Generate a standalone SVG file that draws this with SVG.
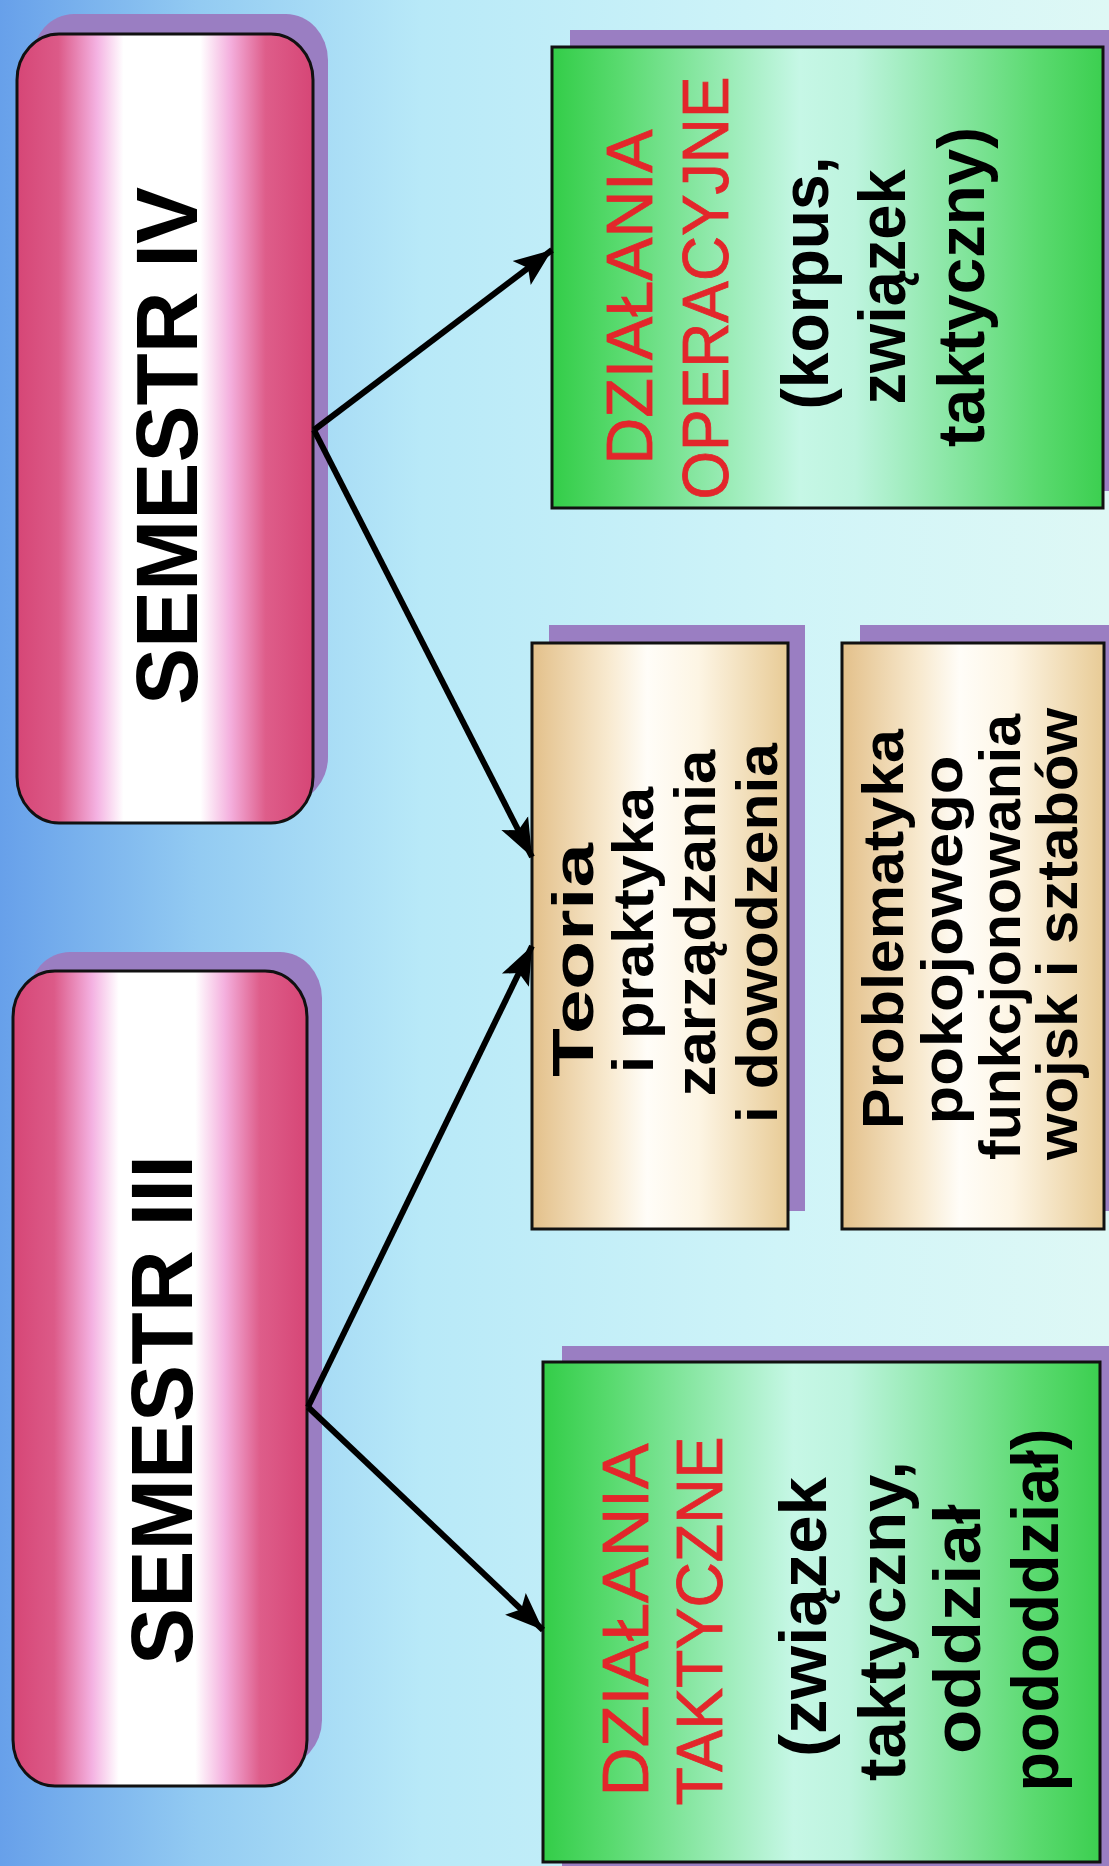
<svg xmlns="http://www.w3.org/2000/svg" width="1109" height="1866" viewBox="0 0 1109 1866">
  <defs>
    <linearGradient id="bg" x1="0" y1="0" x2="1" y2="0">
      <stop offset="0" stop-color="#67a0ea"/>
      <stop offset="0.18" stop-color="#93cbf2"/>
      <stop offset="0.38" stop-color="#b8e9f8"/>
      <stop offset="0.7" stop-color="#cff4f8"/>
      <stop offset="1" stop-color="#def8f5"/>
    </linearGradient>
    <linearGradient id="pink" x1="0" y1="0" x2="1" y2="0">
      <stop offset="0" stop-color="#d64676"/>
      <stop offset="0.14" stop-color="#dc5a88"/>
      <stop offset="0.27" stop-color="#f4b2e2"/>
      <stop offset="0.36" stop-color="#ffffff"/>
      <stop offset="0.62" stop-color="#ffffff"/>
      <stop offset="0.72" stop-color="#f4b0de"/>
      <stop offset="0.84" stop-color="#de5d8a"/>
      <stop offset="1" stop-color="#d64676"/>
    </linearGradient>
    <linearGradient id="green" x1="0" y1="0" x2="1" y2="0">
      <stop offset="0" stop-color="#33cd48"/>
      <stop offset="0.12" stop-color="#58da6e"/>
      <stop offset="0.45" stop-color="#c6f7e6"/>
      <stop offset="0.55" stop-color="#bdf4de"/>
      <stop offset="0.88" stop-color="#5bda70"/>
      <stop offset="1" stop-color="#3ccf50"/>
    </linearGradient>
    <linearGradient id="tan" x1="0" y1="0" x2="1" y2="0">
      <stop offset="0" stop-color="#e3c08a"/>
      <stop offset="0.3" stop-color="#f8ead0"/>
      <stop offset="0.45" stop-color="#fffdf8"/>
      <stop offset="0.65" stop-color="#fdf5e4"/>
      <stop offset="1" stop-color="#e8cb96"/>
    </linearGradient>
    <marker id="head" viewBox="0 0 38 32" refX="38" refY="16" markerWidth="38" markerHeight="32" markerUnits="userSpaceOnUse" orient="auto">
      <path d="M0,1 L38,16 L0,31 L8,16 Z" fill="#000"/>
    </marker>
  </defs>
  <style>
    .shadow { fill: #9a7ec2; }
    .sem { fill: url(#pink); stroke: #111; stroke-width: 3; }
    .grn { fill: url(#green); stroke: #111; stroke-width: 3; }
    .tan { fill: url(#tan); stroke: #111; stroke-width: 3; }
    .title { font-family: "Liberation Sans", Arial, sans-serif; font-weight: bold; font-size: 88px; fill: #000; }
    .red { font-family: "Liberation Sans", Arial, sans-serif; font-size: 64px; fill: #e3262b; stroke: #e3262b; stroke-width: 0.8; }
    .blk { font-family: "Liberation Sans", Arial, sans-serif; font-weight: bold; font-size: 66px; fill: #000; }
    .sub { font-family: "Liberation Sans", Arial, sans-serif; font-weight: bold; font-size: 58px; fill: #000; }
    .link { stroke: #000; stroke-width: 6; fill: none; marker-end: url(#head); }
  </style>

  <!-- page background -->
  <rect x="0" y="0" width="1109" height="1866" fill="url(#bg)"/>

  <!-- SEMESTR IV -->
  <g id="semestr-iv">
    <rect class="shadow" x="32" y="14" width="296" height="789" rx="42" ry="46"/>
    <rect class="sem" x="17" y="34" width="296" height="789" rx="42" ry="46"/>
    <text class="title" transform="translate(197,446) rotate(-90)" text-anchor="middle" textLength="518" lengthAdjust="spacingAndGlyphs">SEMESTR IV</text>
  </g>

  <!-- SEMESTR III -->
  <g id="semestr-iii">
    <rect class="shadow" x="28" y="952" width="294" height="814" rx="42" ry="46"/>
    <rect class="sem" x="13" y="971" width="294" height="815" rx="42" ry="46"/>
    <text class="title" transform="translate(192,1410) rotate(-90)" text-anchor="middle" textLength="510" lengthAdjust="spacingAndGlyphs">SEMESTR III</text>
  </g>

  <!-- Działania operacyjne -->
  <g id="dzialania-operacyjne">
    <rect class="shadow" x="570" y="30" width="545" height="461"/>
    <rect class="grn" x="552" y="47" width="551" height="461"/>
    <text class="red" transform="translate(652,297) rotate(-90)" text-anchor="middle" textLength="335" lengthAdjust="spacingAndGlyphs">DZIAŁANIA</text>
    <text class="red" transform="translate(728,288) rotate(-90)" text-anchor="middle" textLength="423" lengthAdjust="spacingAndGlyphs">OPERACYJNE</text>
    <text class="blk" transform="translate(828,283) rotate(-90)" text-anchor="middle" textLength="253" lengthAdjust="spacingAndGlyphs">(korpus,</text>
    <text class="blk" transform="translate(905,287) rotate(-90)" text-anchor="middle" textLength="235" lengthAdjust="spacingAndGlyphs">związek</text>
    <text class="blk" transform="translate(984,287) rotate(-90)" text-anchor="middle" textLength="320" lengthAdjust="spacingAndGlyphs">taktyczny)</text>
  </g>

  <!-- Teoria i praktyka zarządzania i dowodzenia -->
  <g id="teoria">
    <rect class="shadow" x="549" y="625" width="256" height="586"/>
    <rect class="tan" x="532" y="643" width="256" height="586"/>
    <text class="sub" transform="translate(593,960) rotate(-90)" text-anchor="middle" textLength="234" lengthAdjust="spacingAndGlyphs">Teoria</text>
    <text class="sub" transform="translate(653,930) rotate(-90)" text-anchor="middle" textLength="286" lengthAdjust="spacingAndGlyphs">i praktyka</text>
    <text class="sub" transform="translate(715,923) rotate(-90)" text-anchor="middle" textLength="347" lengthAdjust="spacingAndGlyphs">zarządzania</text>
    <text class="sub" transform="translate(777,933) rotate(-90)" text-anchor="middle" textLength="380" lengthAdjust="spacingAndGlyphs">i dowodzenia</text>
  </g>

  <!-- Problematyka pokojowego funkcjonowania wojsk i sztabów -->
  <g id="problematyka">
    <rect class="shadow" x="860" y="625" width="262" height="586"/>
    <rect class="tan" x="842" y="643" width="262" height="586"/>
    <text class="sub" transform="translate(903,929) rotate(-90)" text-anchor="middle" textLength="400" lengthAdjust="spacingAndGlyphs">Problematyka</text>
    <text class="sub" transform="translate(962,940) rotate(-90)" text-anchor="middle" textLength="369" lengthAdjust="spacingAndGlyphs">pokojowego</text>
    <text class="sub" transform="translate(1020,937) rotate(-90)" text-anchor="middle" textLength="446" lengthAdjust="spacingAndGlyphs">funkcjonowania</text>
    <text class="sub" transform="translate(1077,934) rotate(-90)" text-anchor="middle" textLength="452" lengthAdjust="spacingAndGlyphs">wojsk i sztabów</text>
  </g>

  <!-- Działania taktyczne -->
  <g id="dzialania-taktyczne">
    <rect class="shadow" x="562" y="1346" width="560" height="540"/>
    <rect class="grn" x="543" y="1362" width="557" height="500"/>
    <text class="red" transform="translate(648,1620) rotate(-90)" text-anchor="middle" textLength="353" lengthAdjust="spacingAndGlyphs">DZIAŁANIA</text>
    <text class="red" transform="translate(722,1621) rotate(-90)" text-anchor="middle" textLength="369" lengthAdjust="spacingAndGlyphs">TAKTYCZNE</text>
    <text class="blk" transform="translate(826,1617) rotate(-90)" text-anchor="middle" textLength="280" lengthAdjust="spacingAndGlyphs">(związek</text>
    <text class="blk" transform="translate(905,1621) rotate(-90)" text-anchor="middle" textLength="320" lengthAdjust="spacingAndGlyphs">taktyczny,</text>
    <text class="blk" transform="translate(980,1629) rotate(-90)" text-anchor="middle" textLength="250" lengthAdjust="spacingAndGlyphs">oddział</text>
    <text class="blk" transform="translate(1058,1610) rotate(-90)" text-anchor="middle" textLength="363" lengthAdjust="spacingAndGlyphs">pododdział)</text>
  </g>

  <!-- connectors: drawn over the node shadows, starting at the box edges -->
  <g id="connectors">
    <line class="link" x1="314" y1="430" x2="552" y2="250"/>
    <line class="link" x1="314" y1="430" x2="532" y2="857"/>
    <line class="link" x1="308" y1="1407" x2="532" y2="946"/>
    <line class="link" x1="308" y1="1407" x2="543" y2="1630"/>
  </g>
</svg>
